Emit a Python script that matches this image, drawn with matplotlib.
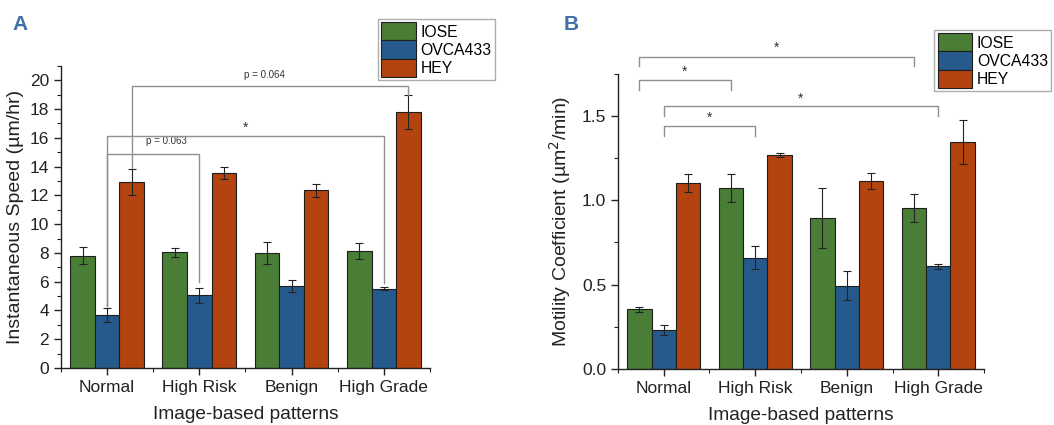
import numpy as np
import matplotlib
matplotlib.use("Agg")
import matplotlib.pyplot as plt
from matplotlib.patches import Patch
from matplotlib.ticker import MultipleLocator

plt.rcParams['font.family'] = ['Liberation Sans', 'DejaVu Sans']

# Data
categories = ['Normal', 'High Risk', 'Benign', 'High Grade']
series = ['IOSE', 'OVCA433', 'HEY']
colors = ['#4a7d36', '#265a8c', '#b3440f']

speed_mean = {
    'IOSE':    [7.8, 8.05, 8.0, 8.15],
    'OVCA433': [3.7, 5.05, 5.7, 5.5],
    'HEY':     [12.9, 13.55, 12.35, 17.8],
}
speed_err = {
    'IOSE':    [0.6, 0.3, 0.75, 0.55],
    'OVCA433': [0.5, 0.5, 0.4, 0.1],
    'HEY':     [0.9, 0.4, 0.45, 1.2],
}

motility_mean = {
    'IOSE':    [0.353, 1.073, 0.896, 0.957],
    'OVCA433': [0.231, 0.659, 0.493, 0.61],
    'HEY':     [1.101, 1.267, 1.115, 1.346],
}
motility_err = {
    'IOSE':    [0.015, 0.085, 0.18, 0.083],
    'OVCA433': [0.027, 0.068, 0.087, 0.015],
    'HEY':     [0.053, 0.012, 0.05, 0.132],
}

# significance brackets: (x1, x2, y_bar, y1_end, y2_end, label, label_x, label_y)
brackets_a = [
    (0.0, 1.0, 14.9, 4.3, 6.0, 'p = 0.063', 0.64, 15.4),
    (0.0, 3.0, 16.1, 4.3, 5.9, '*', 1.5, 16.7),
    (0.267, 3.267, 19.6, 13.9, 19.0, 'p = 0.064', 1.71, 20.0),
]
brackets_b = [
    (-0.267, 2.733, 1.853, 1.796, 1.796, '*', 1.23, 1.905),
    (-0.267, 0.733, 1.717, 1.656, 1.656, '*', 0.23, 1.765),
    (0.0, 3.0, 1.557, 1.50, 1.50, '*', 1.5, 1.605),
    (0.0, 1.0, 1.44, 1.38, 1.38, '*', 0.5, 1.49),
]

fig = plt.figure(figsize=(10.54, 4.25), dpi=100)
ax_a = fig.add_axes([0.0579, 0.134, 0.350, 0.711])
ax_b = fig.add_axes([0.5863, 0.132, 0.3473, 0.694])

x = np.arange(len(categories))
w = 0.8 / 3


def draw_bars(ax, means, errs):
    for i, s in enumerate(series):
        ax.bar(x + (i - 1) * w, means[s], w, color=colors[i],
               edgecolor='#1e1e1e', linewidth=0.8, zorder=2)
        ax.errorbar(x + (i - 1) * w, means[s], yerr=errs[s], fmt='none',
                    ecolor='#222222', elinewidth=0.8, capsize=3,
                    capthick=0.8, zorder=3)


def draw_brackets(ax, brackets, small_fs):
    for x1, x2, yb, y1, y2, lab, lx, ly in brackets:
        ax.plot([x1, x1, x2, x2], [y1, yb, yb, y2], color='#8f8f8f',
                lw=1.0, clip_on=False, zorder=4)
        fs = 10 if lab == '*' else small_fs
        ax.text(lx, ly, lab, ha='center', va='bottom' if lab != '*' else 'center',
                fontsize=fs, color='#333333', clip_on=False)


def style_axis(ax, ymax, major, minor):
    ax.set_xlim(-0.5, 3.5)
    ax.set_ylim(0, ymax)
    ax.spines['top'].set_visible(False)
    ax.spines['right'].set_visible(False)
    for sp in ('left', 'bottom'):
        ax.spines[sp].set_linewidth(1.0)
        ax.spines[sp].set_color('#222222')
    ax.set_xticks(x)
    ax.set_xticklabels(categories)
    ax.xaxis.set_minor_locator(MultipleLocator(1.0, offset=0.5))
    ax.yaxis.set_major_locator(MultipleLocator(major))
    ax.yaxis.set_minor_locator(MultipleLocator(minor))
    ax.tick_params(axis='both', which='major', direction='out', length=5,
                   width=1.0, labelsize=12.5, colors='#222222')
    ax.tick_params(axis='both', which='minor', direction='out', length=3,
                   width=0.8, colors='#222222')
    ax.set_xlabel('Image-based patterns', fontsize=13.8, labelpad=8,
                  color='#222222')


# Panel A
draw_bars(ax_a, speed_mean, speed_err)
style_axis(ax_a, 21, 2, 1)
ax_a.set_ylabel('Instantaneous Speed (\u00b5m/hr)', fontsize=14,
                color='#222222', labelpad=4)
draw_brackets(ax_a, brackets_a, 7)

# Panel B
draw_bars(ax_b, motility_mean, motility_err)
style_axis(ax_b, 1.75, 0.5, 0.25)
ax_b.yaxis.set_major_formatter(matplotlib.ticker.FormatStrFormatter('%.1f'))
ax_b.set_ylabel('Motility Coefficient (\u00b5m$^2$/min)', fontsize=14,
                color='#222222', labelpad=6)
draw_brackets(ax_b, brackets_b, 7)

# Legends
handles = [Patch(facecolor=c, edgecolor='#1e1e1e', linewidth=0.8) for c in colors]
leg_kw = dict(fontsize=11.3, frameon=True, fancybox=False, edgecolor='#999999',
              handlelength=2.2, handleheight=1.4, labelspacing=0.0,
              handletextpad=0.3, borderpad=0.2, borderaxespad=0)
fig.legend(handles, series, loc='upper left', bbox_to_anchor=(0.3586, 0.955),
           **leg_kw)
fig.legend(handles, series, loc='upper left', bbox_to_anchor=(0.8866, 0.929),
           **leg_kw)

# Panel letters
fig.text(0.012, 0.942, 'A', fontsize=15, fontweight='bold', color='#3f70a8',
         va='center')
fig.text(0.535, 0.942, 'B', fontsize=15, fontweight='bold', color='#3f70a8',
         va='center')

fig.savefig('out.png', dpi=100)
